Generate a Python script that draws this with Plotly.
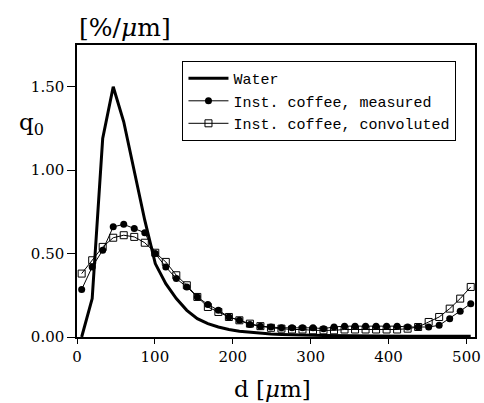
import plotly.graph_objects as go

d_um = [6, 19.5, 33, 46.5, 60, 73.5, 87, 100.5, 114, 127.5, 141, 154.5, 168, 181.5,
        195, 208.5, 222, 235.5, 249, 262.5, 276, 289.5, 303, 316.5, 330, 343.5, 357,
        370.5, 384, 397.5, 411, 424.5, 438, 451.5, 465, 478.5, 492, 505.5]

water = [0.0, 0.23, 1.19, 1.50, 1.29, 0.99, 0.70, 0.44, 0.32, 0.23, 0.16, 0.11, 0.08,
         0.06, 0.045, 0.035, 0.028, 0.022, 0.018, 0.015, 0.012, 0.011, 0.010, 0.009,
         0.008, 0.008, 0.007, 0.007, 0.006, 0.006, 0.006, 0.005, 0.005, 0.005, 0.005,
         0.005, 0.005, 0.005]

measured = [0.285, 0.42, 0.52, 0.66, 0.675, 0.65, 0.625, 0.50, 0.42, 0.35, 0.30, 0.24,
            0.195, 0.16, 0.12, 0.10, 0.075, 0.065, 0.06, 0.055, 0.055, 0.055, 0.055,
            0.05, 0.06, 0.065, 0.065, 0.065, 0.065, 0.065, 0.065, 0.06, 0.06, 0.06,
            0.07, 0.11, 0.155, 0.20]

convoluted = [0.38, 0.46, 0.54, 0.595, 0.61, 0.60, 0.565, 0.505, 0.45, 0.37, 0.31, 0.24,
              0.18, 0.15, 0.12, 0.10, 0.08, 0.065, 0.055, 0.05, 0.045, 0.045, 0.04,
              0.04, 0.04, 0.045, 0.045, 0.045, 0.045, 0.045, 0.045, 0.05, 0.06, 0.09,
              0.12, 0.17, 0.23, 0.30]

x_ticks = [0, 100, 200, 300, 400, 500]
y_ticks = [0.0, 0.5, 1.0, 1.5]
y_tick_labels = ["0.00", "0.50", "1.00", "1.50"]

serif = "DejaVu Serif"
mono = "Liberation Mono"

fig = go.Figure()
fig.add_trace(go.Scatter(x=d_um, y=water, mode="lines", name="Water",
                         line=dict(color="black", width=3)))
fig.add_trace(go.Scatter(x=d_um, y=measured, mode="lines+markers",
                         name="Inst. coffee, measured",
                         line=dict(color="black", width=1),
                         marker=dict(symbol="circle", size=7, color="black")))
fig.add_trace(go.Scatter(x=d_um, y=convoluted, mode="lines+markers",
                         name="Inst. coffee, convoluted",
                         line=dict(color="black", width=1),
                         marker=dict(symbol="square-open", size=7, color="black",
                                     line=dict(width=1, color="black"))))

fig.update_layout(
    width=484, height=403,
    margin=dict(l=77, r=3, t=45, b=66),
    paper_bgcolor="white", plot_bgcolor="white",
    showlegend=True,
    legend=dict(x=0.265, y=0.945, xanchor="left", yanchor="top",
                bgcolor="white", bordercolor="black", borderwidth=1,
                font=dict(family=mono, size=15, color="black"),
                itemwidth=40, tracegroupgap=0),
    xaxis=dict(range=[0, 511], tickvals=x_ticks, showgrid=False, zeroline=False,
               showline=True, linecolor="black", linewidth=1.5, mirror=True,
               ticks="outside", ticklen=5, tickcolor="black",
               ticklabeloverflow="allow",
               tickfont=dict(family=serif, size=15, color="black")),
    yaxis=dict(range=[0, 1.75], tickvals=y_ticks, ticktext=y_tick_labels,
               showgrid=False, zeroline=False,
               showline=True, linecolor="black", linewidth=1.5, mirror=True,
               ticks="outside", ticklen=8, tickcolor="black",
               tickfont=dict(family=serif, size=15, color="black")),
    annotations=[
        dict(text="[%/<i>μ</i>m]", xref="paper", yref="paper", x=0.0, y=1.0,
             xanchor="left", yanchor="bottom", showarrow=False, yshift=1,
             font=dict(family=serif, size=25, color="black")),
        dict(text="q<sub>0</sub>", xref="paper", yref="paper", x=-0.115, y=0.73,
             xanchor="center", yanchor="middle", showarrow=False,
             font=dict(family=serif, size=23, color="black")),
        dict(text="d [<i>μ</i>m]", xref="paper", yref="paper", x=0.49, y=-0.178,
             xanchor="center", yanchor="middle", showarrow=False,
             font=dict(family=serif, size=23, color="black")),
    ],
)

fig.write_html("out.html")
